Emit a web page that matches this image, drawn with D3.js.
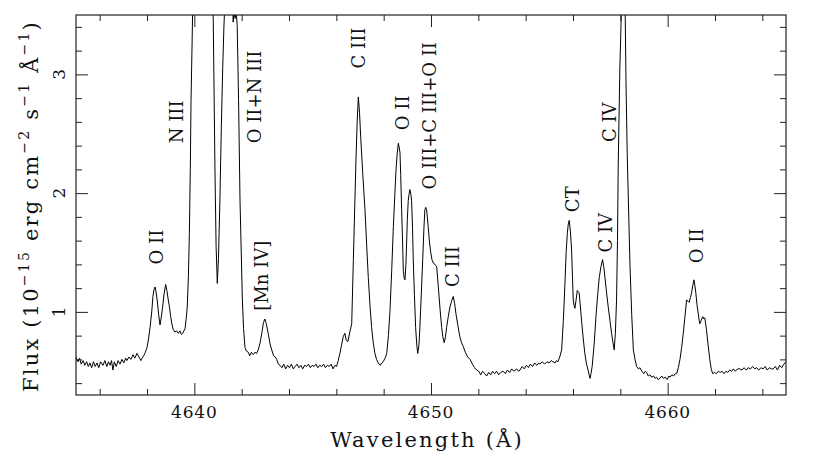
<!DOCTYPE html>
<html>
<head>
<meta charset="utf-8">
<script src="https://cdn.jsdelivr.net/npm/d3@7"></script>
<style>
  body { margin: 0; background: #fff; }
  svg text { font-family: "DejaVu Serif", "Liberation Serif", serif; fill: #111; }
</style>
</head>
<body>
<div class="chart"></div>
<script>
// wavelength (Angstrom) and flux (1e-15 erg/cm2/s/A)
const wave = [
  4635.00,4635.08,4635.15,4635.22,4635.30,4635.37,4635.45,4635.52,4635.59,4635.66,
  4635.74,4635.81,4635.89,4635.96,4636.04,4636.14,4636.22,4636.30,4636.37,4636.44,
  4636.50,4636.56,4636.62,4636.70,4636.78,4636.86,4636.94,4637.02,4637.10,4637.15,
  4637.24,4637.32,4637.41,4637.48,4637.58,4637.66,4637.74,4637.79,4637.86,4637.93,
  4638.00,4638.07,4638.13,4638.20,4638.25,4638.30,4638.34,4638.38,4638.43,4638.49,
  4638.55,4638.60,4638.66,4638.72,4638.79,4638.84,4638.90,4638.95,4639.00,4639.06,
  4639.11,4639.18,4639.25,4639.32,4639.39,4639.45,4639.51,4639.56,4639.61,4639.66,
  4639.70,4639.75,4639.79,4639.83,4639.86,4639.90,4639.93,4640.00,4640.20,4640.40,
  4640.60,4640.75,4640.80,4640.87,4640.92,4640.97,4641.02,4641.08,4641.14,4641.20,
  4641.25,4641.29,4641.40,4641.55,4641.60,4641.64,4641.68,4641.72,4641.77,4641.81,
  4641.87,4641.93,4642.03,4642.08,4642.14,4642.20,4642.28,4642.34,4642.41,4642.49,
  4642.56,4642.63,4642.70,4642.78,4642.85,4642.92,4642.98,4643.04,4643.12,4643.20,
  4643.27,4643.35,4643.42,4643.48,4643.55,4643.62,4643.70,4643.78,4643.86,4643.94,
  4644.02,4644.10,4644.18,4644.26,4644.34,4644.42,4644.50,4644.58,4644.66,4644.74,
  4644.82,4644.90,4644.98,4645.06,4645.14,4645.22,4645.30,4645.38,4645.46,4645.54,
  4645.62,4645.70,4645.78,4645.86,4645.94,4646.01,4646.08,4646.15,4646.22,4646.29,
  4646.36,4646.42,4646.49,4646.57,4646.65,4646.72,4646.78,4646.83,4646.88,4646.93,
  4646.98,4647.03,4647.12,4647.21,4647.28,4647.35,4647.42,4647.49,4647.56,4647.63,
  4647.70,4647.77,4647.85,4647.92,4647.98,4648.06,4648.13,4648.20,4648.27,4648.34,
  4648.41,4648.47,4648.52,4648.57,4648.62,4648.66,4648.69,4648.72,4648.76,4648.80,
  4648.83,4648.87,4648.90,4648.94,4648.97,4649.00,4649.04,4649.08,4649.11,4649.15,
  4649.18,4649.22,4649.25,4649.30,4649.35,4649.40,4649.44,4649.49,4649.53,4649.59,
  4649.65,4649.70,4649.74,4649.78,4649.82,4649.88,4649.94,4649.99,4650.04,4650.10,
  4650.17,4650.24,4650.31,4650.38,4650.45,4650.50,4650.56,4650.61,4650.66,4650.73,
  4650.80,4650.87,4650.94,4651.00,4651.05,4651.14,4651.22,4651.29,4651.36,4651.45,
  4651.55,4651.65,4651.75,4651.84,4651.93,4652.02,4652.10,4652.18,4652.27,4652.35,
  4652.44,4652.52,4652.60,4652.69,4652.77,4652.86,4652.95,4653.05,4653.14,4653.23,
  4653.32,4653.41,4653.50,4653.62,4653.70,4653.76,4653.85,4653.94,4654.03,4654.12,
  4654.20,4654.29,4654.38,4654.47,4654.55,4654.60,4654.70,4654.80,4654.90,4655.00,
  4655.08,4655.15,4655.24,4655.30,4655.36,4655.44,4655.52,4655.59,4655.66,4655.71,
  4655.76,4655.80,4655.84,4655.89,4655.94,4655.98,4656.01,4656.05,4656.08,4656.13,
  4656.18,4656.22,4656.26,4656.31,4656.36,4656.43,4656.50,4656.57,4656.64,4656.68,
  4656.72,4656.76,4656.81,4656.89,4656.97,4657.04,4657.11,4657.18,4657.25,4657.30,
  4657.35,4657.42,4657.49,4657.56,4657.63,4657.69,4657.74,4657.79,4657.84,4657.88,
  4657.91,4657.95,4657.98,4658.02,4658.05,4658.10,4658.15,4658.20,4658.24,4658.29,
  4658.35,4658.41,4658.48,4658.55,4658.62,4658.69,4658.76,4658.83,4658.91,4658.99,
  4659.06,4659.11,4659.18,4659.25,4659.33,4659.40,4659.47,4659.53,4659.60,4659.67,
  4659.75,4659.82,4659.90,4659.98,4660.05,4660.10,4660.18,4660.25,4660.32,4660.38,
  4660.45,4660.52,4660.59,4660.66,4660.73,4660.80,4660.86,4660.91,4660.96,4661.01,
  4661.06,4661.11,4661.15,4661.19,4661.24,4661.29,4661.33,4661.36,4661.42,4661.48,
  4661.53,4661.57,4661.64,4661.71,4661.78,4661.84,4661.90,4661.98,4662.06,4662.14,
  4662.22,4662.30,4662.38,4662.46,4662.54,4662.62,4662.70,4662.78,4662.86,4662.95,
  4663.05,4663.14,4663.23,4663.32,4663.41,4663.50,4663.59,4663.68,4663.76,4663.85,
  4663.94,4664.03,4664.12,4664.21,4664.30,4664.38,4664.46,4664.55,4664.64,4664.73,
  4664.82,4664.91,4665.00
];
const flux = [
  0.62,0.58,0.61,0.56,0.59,0.55,0.58,0.54,0.57,0.53,
  0.58,0.54,0.57,0.53,0.58,0.55,0.59,0.54,0.58,0.55,
  0.59,0.51,0.58,0.54,0.59,0.56,0.60,0.57,0.61,0.59,
  0.62,0.60,0.64,0.61,0.65,0.62,0.59,0.61,0.63,0.66,
  0.70,0.78,0.87,1.00,1.13,1.19,1.21,1.17,1.10,0.98,
  0.89,0.95,1.04,1.15,1.23,1.18,1.10,1.04,0.96,0.89,
  0.85,0.83,0.84,0.82,0.84,0.81,0.82,0.84,0.86,0.95,
  1.04,1.30,1.66,2.20,2.78,3.20,3.55,4.20,5.20,5.40,
  4.60,3.80,3.45,2.22,1.55,1.24,1.45,1.94,2.55,3.06,
  3.40,3.60,4.20,4.30,3.90,3.44,3.55,3.47,3.52,3.42,
  2.78,1.94,1.10,0.86,0.70,0.67,0.66,0.63,0.66,0.64,
  0.66,0.65,0.68,0.74,0.82,0.91,0.94,0.90,0.82,0.73,
  0.68,0.63,0.62,0.60,0.56,0.55,0.53,0.56,0.52,0.55,
  0.53,0.56,0.52,0.54,0.56,0.53,0.55,0.52,0.55,0.54,
  0.56,0.53,0.55,0.54,0.56,0.53,0.55,0.54,0.56,0.53,
  0.55,0.54,0.56,0.52,0.55,0.54,0.59,0.65,0.72,0.79,
  0.82,0.76,0.75,0.83,0.90,1.44,1.90,2.28,2.60,2.81,
  2.68,2.47,2.15,1.86,1.57,1.29,1.06,0.87,0.74,0.65,
  0.60,0.57,0.55,0.57,0.58,0.61,0.65,0.80,1.02,1.35,
  1.72,1.98,2.19,2.33,2.42,2.38,2.34,2.15,1.86,1.58,
  1.35,1.28,1.27,1.40,1.58,1.78,1.94,2.00,2.03,1.99,
  1.94,1.70,1.44,1.14,0.87,0.72,0.65,0.72,0.87,1.15,
  1.44,1.70,1.86,1.88,1.85,1.72,1.58,1.50,1.44,1.41,
  1.40,1.38,1.21,1.03,0.87,0.79,0.74,0.79,0.87,0.96,
  1.04,1.09,1.13,1.07,0.99,0.88,0.79,0.74,0.71,0.66,
  0.62,0.60,0.56,0.53,0.51,0.50,0.47,0.50,0.48,0.46,
  0.49,0.47,0.50,0.48,0.50,0.47,0.49,0.50,0.48,0.51,
  0.49,0.52,0.50,0.52,0.50,0.51,0.54,0.52,0.55,0.53,
  0.56,0.54,0.57,0.55,0.57,0.56,0.58,0.56,0.58,0.57,
  0.59,0.58,0.57,0.59,0.58,0.62,0.68,0.92,1.24,1.50,
  1.66,1.74,1.77,1.68,1.52,1.28,1.10,1.05,1.03,1.10,
  1.18,1.17,1.16,1.05,0.93,0.78,0.65,0.56,0.51,0.47,
  0.44,0.48,0.54,0.72,0.96,1.14,1.29,1.38,1.44,1.38,
  1.29,1.16,1.04,0.93,0.82,0.74,0.68,0.82,1.10,1.60,
  2.22,2.70,3.06,3.35,3.60,4.20,4.00,3.60,2.93,2.34,
  1.85,1.38,0.98,0.68,0.60,0.54,0.52,0.53,0.50,0.48,
  0.50,0.49,0.46,0.47,0.45,0.46,0.44,0.45,0.43,0.44,
  0.46,0.44,0.45,0.43,0.46,0.45,0.47,0.46,0.48,0.48,
  0.53,0.60,0.70,0.82,0.96,1.10,1.09,1.08,1.12,1.16,
  1.22,1.27,1.22,1.16,1.06,0.99,0.93,0.90,0.93,0.96,
  0.94,0.95,0.85,0.72,0.60,0.52,0.48,0.49,0.48,0.50,
  0.49,0.50,0.48,0.50,0.49,0.51,0.50,0.52,0.50,0.52,
  0.52,0.51,0.53,0.51,0.53,0.52,0.54,0.52,0.53,0.51,
  0.53,0.52,0.54,0.51,0.53,0.52,0.52,0.54,0.51,0.55,
  0.53,0.56,0.58
];

// line identifications: label text, wavelength under the label, flux where the label starts
const lineNames = ["O II", "N III", "O II+N III", "[Mn IV]", "C III", "O II",
                   "O III+C III+O II", "C III", "CT", "C IV", "C IV", "O II"];
const lineWave  = [4638.42, 4639.28, 4642.55, 4642.85, 4646.94, 4648.81,
                   4649.96, 4650.92, 4655.99, 4657.40, 4657.56, 4661.24];
const lineFlux  = [1.40, 2.42, 2.42, 1.01, 3.05, 2.53, 2.03, 1.21, 1.84, 1.50, 2.43, 1.41];

const xTicks = [4640, 4650, 4660];
const yTicks = [1, 2, 3];

var W = 830, H = 471;
var mL = 76, mR = 786, mT = 15, mB = 395;

var x = d3.scaleLinear().domain([4635, 4665]).range([mL, mR]);
var y = d3.scaleLinear().domain([0.3, 3.5]).range([mB, mT]);

var svg = d3.select(".chart").append("svg")
    .attr("width", W)
    .attr("height", H);

svg.append("clipPath").attr("id", "plotclip")
  .append("rect")
    .attr("x", mL).attr("y", mT)
    .attr("width", mR - mL).attr("height", mB - mT);

// spectrum
var pts = wave.map(function(w, i) { return [w, flux[i]]; });
svg.append("path")
    .datum(pts)
    .attr("clip-path", "url(#plotclip)")
    .attr("fill", "none")
    .attr("stroke", "#000")
    .attr("stroke-width", 1)
    .attr("stroke-linejoin", "round")
    .attr("d", d3.line().x(function(d) { return x(d[0]); }).y(function(d) { return y(d[1]); }));

// ticks on all four sides, pointing inward
var xMinor = d3.range(4636, 4665, 2).filter(function(v) { return v % 10 != 0; });
var yMinor = d3.range(4, 35, 2).map(function(v) { return v / 10; }).filter(function(v) { return v % 1 != 0; });

function tickAxes(axisFn, scale, minor, major, transform) {
    svg.append("g").attr("transform", transform)
        .call(axisFn(scale).tickValues(minor).tickSize(-6).tickFormat(""));
    svg.append("g").attr("transform", transform)
        .call(axisFn(scale).tickValues(major).tickSize(-12).tickFormat(""));
}
tickAxes(d3.axisBottom, x, xMinor, xTicks, "translate(0," + mB + ")");
tickAxes(d3.axisTop, x, xMinor, xTicks, "translate(0," + mT + ")");
tickAxes(d3.axisLeft, y, yMinor, yTicks, "translate(" + mL + ",0)");
tickAxes(d3.axisRight, y, yMinor, yTicks, "translate(" + mR + ",0)");
svg.selectAll(".domain").remove();
svg.selectAll(".tick line").attr("stroke", "#222");

svg.append("rect")
    .attr("x", mL).attr("y", mT)
    .attr("width", mR - mL).attr("height", mB - mT)
    .attr("fill", "none")
    .attr("stroke", "#222")
    .attr("stroke-width", 1.2);

// tick labels
svg.selectAll(".xlab")
    .data(xTicks).enter().append("text")
    .attr("x", function(d) { return x(d); })
    .attr("y", 418)
    .attr("text-anchor", "middle")
    .attr("font-size", 17)
    .attr("letter-spacing", 0.8)
    .text(function(d) { return d; });

svg.selectAll(".ylab")
    .data(yTicks).enter().append("text")
    .attr("transform", function(d) { return "translate(65," + y(d) + ") rotate(-90)"; })
    .attr("text-anchor", "middle")
    .attr("font-size", 17)
    .text(function(d) { return d; });

// axis titles
svg.append("text")
    .attr("x", 427).attr("y", 447)
    .attr("text-anchor", "middle")
    .attr("font-size", 21)
    .attr("letter-spacing", 2.2)
    .text("Wavelength (Å)");

var yt = svg.append("text")
    .attr("transform", "translate(38,206) rotate(-90)")
    .attr("text-anchor", "middle")
    .attr("font-size", 21)
    .attr("letter-spacing", 2.2);
var parts = [["Flux (10", 0], ["−15", 1], [" erg cm", 0], ["−2", 1], [" s", 0], ["−1", 1], [" Å", 0], ["−1", 1], [")", 0]];
var prev = 0;
parts.forEach(function(p) {
    var shift = p[1] ? -9 : 0;
    yt.append("tspan")
        .attr("dy", shift - prev)
        .attr("font-size", p[1] ? 14 : 21)
        .text(p[0]);
    prev = shift;
});

// line labels
svg.selectAll(".ident")
    .data(lineNames).enter().append("text")
    .attr("transform", function(d, i) {
        return "translate(" + (x(lineWave[i]) + 6) + "," + y(lineFlux[i]) + ") rotate(-90)";
    })
    .attr("font-size", 18)
    .text(function(d) { return d; });
</script>
</body>
</html>
